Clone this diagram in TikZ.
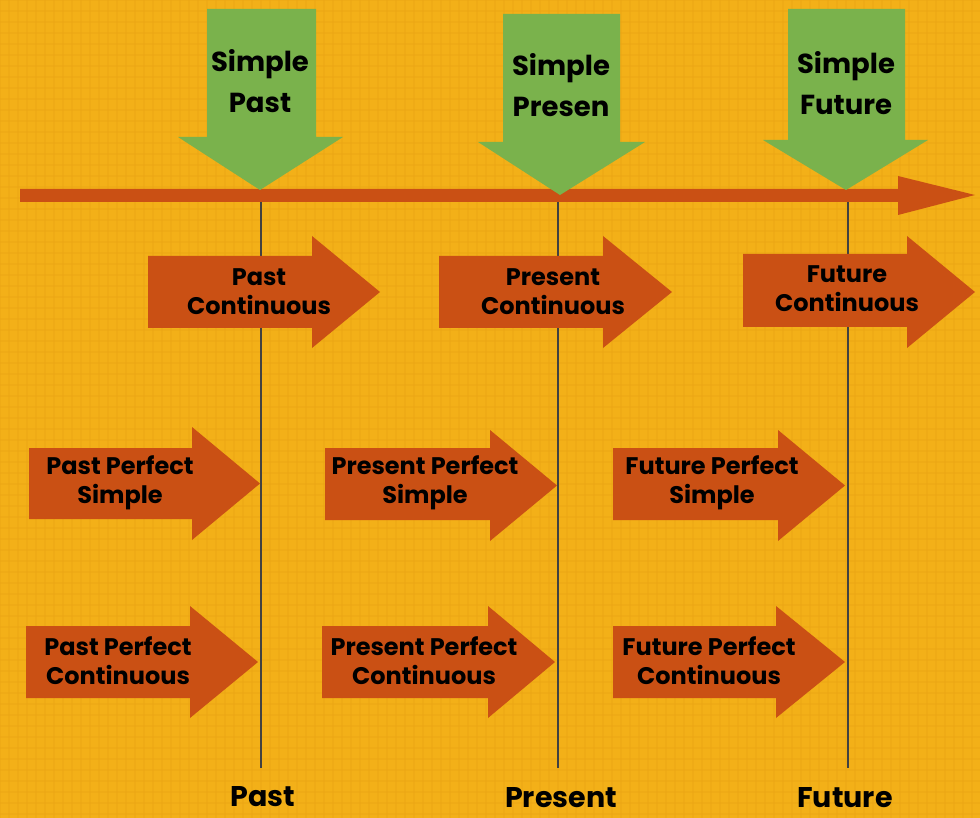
\documentclass[tikz,border=0pt]{standalone}
\usepackage{fontspec}
\setmainfont{Poppins}
\definecolor{bg}{RGB}{243,176,24}
\definecolor{bgline}{RGB}{234,164,20}
\definecolor{orng}{RGB}{202,80,20}
\definecolor{grn}{RGB}{122,178,76}
\definecolor{pole}{RGB}{65,65,65}
\tikzset{
  lbl/.style={font=\bfseries\fontsize{24}{29}\selectfont, align=center, text=black, inner sep=0pt},
  toplbl/.style={font=\bfseries\fontsize{27.5}{41}\selectfont, align=center, text=black, inner sep=0pt},
  eralbl/.style={font=\bfseries\fontsize{28.5}{32}\selectfont, text=black, inner sep=0pt},
  polestyle/.style={draw=pole, line width=2.8pt},
  rarrow/.style={fill=orng},
  darrow/.style={fill=grn}
}
% right arrow: x0 body-left, xh head-start, xt tip, yt body-top, yb body-bottom, ht head-top, hb head-bottom
\newcommand{\RArrow}[7]{\fill[rarrow] (#1,#4) -- (#2,#4) -- (#2,#6) -- (#3,{(#6+#7)/2}) -- (#2,#7) -- (#2,#5) -- (#1,#5) -- cycle;}
% down arrow: xl, xr shaft, ytop, yh head start, hl, hr head extent, tx, ty tip
\newcommand{\DArrow}[8]{\fill[darrow] (#1,#3) -- (#2,#3) -- (#2,#4) -- (#6,#4) -- (#7,#8) -- (#5,#4) -- (#1,#4) -- cycle;}
\begin{document}
\begin{tikzpicture}[x=1pt,y=-1pt]
\useasboundingbox (0,0) rectangle (980,818);
\fill[bg] (0,0) rectangle (980,818);
% faint texture
\foreach \i in {0,9,...,980} {\draw[bgline, line width=1.2pt, opacity=0.4] (\i,0) -- (\i,818);}
\foreach \j in {0,11,...,818} {\draw[bgline, line width=1.2pt, opacity=0.4] (0,\j) -- (980,\j);}

% poles
\coordinate (pastTop) at (261,197);
\coordinate (pastBot) at (261,768);
\coordinate (presTop) at (558,197);
\coordinate (presBot) at (558,768);
\coordinate (futTop) at (848,197);
\coordinate (futBot) at (848,768);
\draw[polestyle] (pastTop) -- (pastBot);
\draw[polestyle] (presTop) -- (presBot);
\draw[polestyle] (futTop) -- (futBot);

% timeline
\fill[orng] (20,189) -- (898,189) -- (898,176) -- (975,195) -- (898,215) -- (898,202) -- (20,202) -- cycle;

% green down arrows
\DArrow{207}{316}{9}{137}{178}{343}{260}{190}
\DArrow{503}{620}{14}{142}{478}{645}{560}{195}
\DArrow{788}{905}{9}{140}{763}{928}{846}{190}

% orange right arrows: row 1
\RArrow{148}{312}{380}{256}{328}{236}{348}
\RArrow{439}{603}{672}{256}{328}{236}{348}
\RArrow{743}{907}{975}{254}{327}{236}{348}
% row 2
\RArrow{29}{192}{260}{448}{519}{427}{540}
\RArrow{325}{490}{557}{448}{520}{430}{541}
\RArrow{613}{778}{845}{448}{520}{430}{541}
% row 3
\RArrow{26}{190}{258}{626}{698}{606}{718}
\RArrow{322}{488}{555}{626}{698}{606}{718}
\RArrow{613}{776}{845}{626}{698}{606}{718}

% labels
\node[toplbl] (sp) at (260,81) {Simple\\Past};
\node[toplbl] (spr) at (561,85) {Simple\\Presen};
\node[toplbl] (sf) at (846,83) {Simple\\Future};

\node[lbl] (pc) at (259,292) {Past\\Continuous};
\node[lbl] (prc) at (553,292) {Present\\Continuous};
\node[lbl] (fc) at (847,289) {Future\\Continuous};

\node[lbl] (pps) at (120,483) {Past Perfect\\Simple};
\node[lbl] (prps) at (425,483) {Present Perfect\\Simple};
\node[lbl] (fps) at (712,483) {Future Perfect\\Simple};

\node[lbl] (ppc) at (118,661) {Past Perfect\\Continuous};
\node[lbl] (prpc) at (424,661) {Present Perfect\\Continuous};
\node[lbl] (fpc) at (709,661) {Future Perfect\\Continuous};

\node[eralbl] (past) at (263,797) {Past};
\node[eralbl] (present) at (561,798) {Present};
\node[eralbl] (future) at (845,798) {Future};
\end{tikzpicture}
\end{document}
